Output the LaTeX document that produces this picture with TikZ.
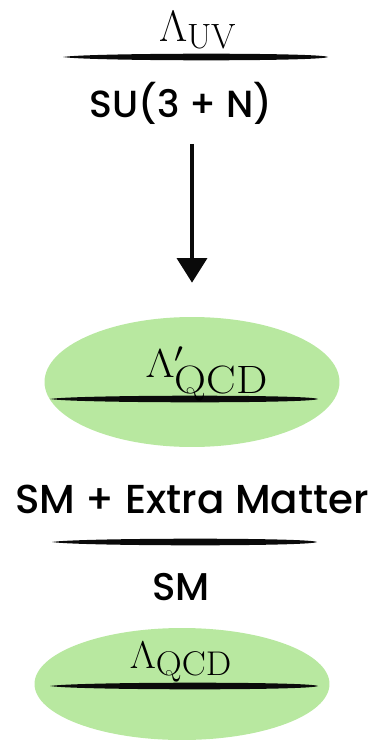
\documentclass[tikz,border=0pt]{standalone}
\usepackage{fix-cm}
\usepackage{amsmath}
\usepackage{fontspec}
\newfontfamily\handfont{Poppins Medium}
\usetikzlibrary{arrows.meta,shapes.geometric}
\definecolor{Ink}{HTML}{0A0A0A}
\definecolor{Leaf}{HTML}{B8E8A0}
\newcommand{\subsz}[3]{\smash{\raisebox{#2}{\fontsize{#1}{#1}\selectfont #3}}}
\tikzset{
  >=Triangle,
  scalelab/.style={inner sep=2pt,anchor=base},
  hand/.style={inner sep=2pt,anchor=base,font=\handfont\fontsize{22}{26}\selectfont},
  blob/.style={ellipse,fill=Leaf,draw=none,inner sep=0pt},
  brush/.style={fill=Ink,draw=none},
  flow/.style={-{Triangle[width=17pt,length=14pt]},line width=2.3pt,draw=Ink}
}
\begin{document}
\begin{tikzpicture}[x=0.02cm,y=-0.02cm]
    \useasboundingbox (0,0) rectangle (375,740);
    % green regions
    \node[blob,minimum width=5.9cm,minimum height=2.6cm] (ep) at (192,382) {};
    \node[blob,minimum width=5.9cm,minimum height=2.24cm] (eq) at (182,684) {};
    % brush strokes
    \foreach \xa/\xb/\yy in {63/328/57, 50/318/399, 52/317/542, 50/318/686}
      \fill[brush] (\xa,\yy) .. controls (\xa+25,\yy-4.2) and (\xb-7,\yy-4.6) .. (\xb,\yy)
        .. controls (\xb-7,\yy+4.6) and (\xa+25,\yy+4.2) .. cycle;
    % labels
    \node[scalelab,font=\fontsize{25}{29}\selectfont] (uv) at (198,42)
      {$\Lambda_{\subsz{20}{0pt}{UV}}$};
    \node[hand,font=\handfont\fontsize{21.5}{26}\selectfont] (su) at (181,117) {SU(3 + N)};
    \node[scalelab,font=\fontsize{23}{27}\selectfont] (qcdp) at (207,377)
      {\scalebox{1.12}[1]{$\Lambda'_{\subsz{22.5}{-3.5pt}{QCD}}$}};
    \node[hand,font=\handfont\fontsize{23}{27}\selectfont] (extra) at (192,513) {SM + Extra Matter};
    \node[hand] (sm) at (181,600) {SM};
    \node[scalelab,font=\fontsize{22}{26}\selectfont] (qcd) at (181,668)
      {\scalebox{1.05}[1]{$\Lambda_{\subsz{19.5}{-1pt}{QCD}}$}};
    \draw[flow,shorten <=0.32cm,shorten >=0.68cm] (su.south -| ep.north) -- (ep.north);
  \end{tikzpicture}
\end{document}
